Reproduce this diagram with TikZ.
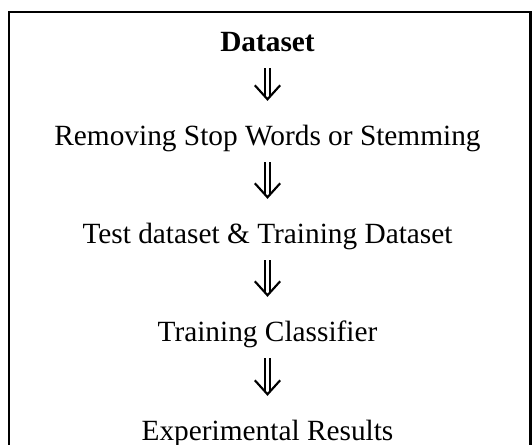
\documentclass[tikz,border=0pt]{standalone}
\usepackage{fontspec}
\setmainfont{Liberation Serif}
\usetikzlibrary{arrows.meta}

\tikzset{
  steptext/.style={anchor=base, inner sep=0pt, font=\fontsize{22}{26}\selectfont, text height=15.4pt, text depth=4.8pt},
  dblarrow/.style={
    postaction={draw, line width=1.7pt, transform canvas={xshift=-1.8pt}, shorten <=7.9pt, shorten >=21pt},
    postaction={draw, line width=1.7pt, transform canvas={xshift=1.8pt}, shorten <=7.9pt, shorten >=21pt},
    postaction={tips, -{Straight Barb[length=10.5pt, width=19pt, line width=1.6pt]}, shorten >=17.5pt}}
}

\begin{document}
\begin{tikzpicture}[x=0.75pt,y=0.75pt,yscale=-1,xscale=1]
\useasboundingbox (0,0) rectangle (532,444);
\clip (0,0) rectangle (532,444);

%Frame
\draw [line width=1.9pt] (9,450) -- (9,12) -- (530.5,12) -- (530.5,450) ;

% Text Node
\node [steptext] (ds) at (267.5,51) {\textbf{Dataset}};
% Text Node
\node [steptext] (rs) at (267.5,145) {Removing Stop Words or Stemming};
% Text Node
\node [steptext] (td) at (267.5,243) {Test dataset \& Training Dataset};
% Text Node
\node [steptext] (tc) at (267.5,341) {Training Classifier};
% Text Node
\node [steptext] (er) at (267.5,440) {Experimental Results};

%Double Arrows
\path [dblarrow] (ds.south) -- (rs.north) ;
\path [dblarrow] (rs.south) -- (td.north) ;
\path [dblarrow] (td.south) -- (tc.north) ;
\path [dblarrow] (tc.south) -- (er.north) ;

\end{tikzpicture}
\end{document}
